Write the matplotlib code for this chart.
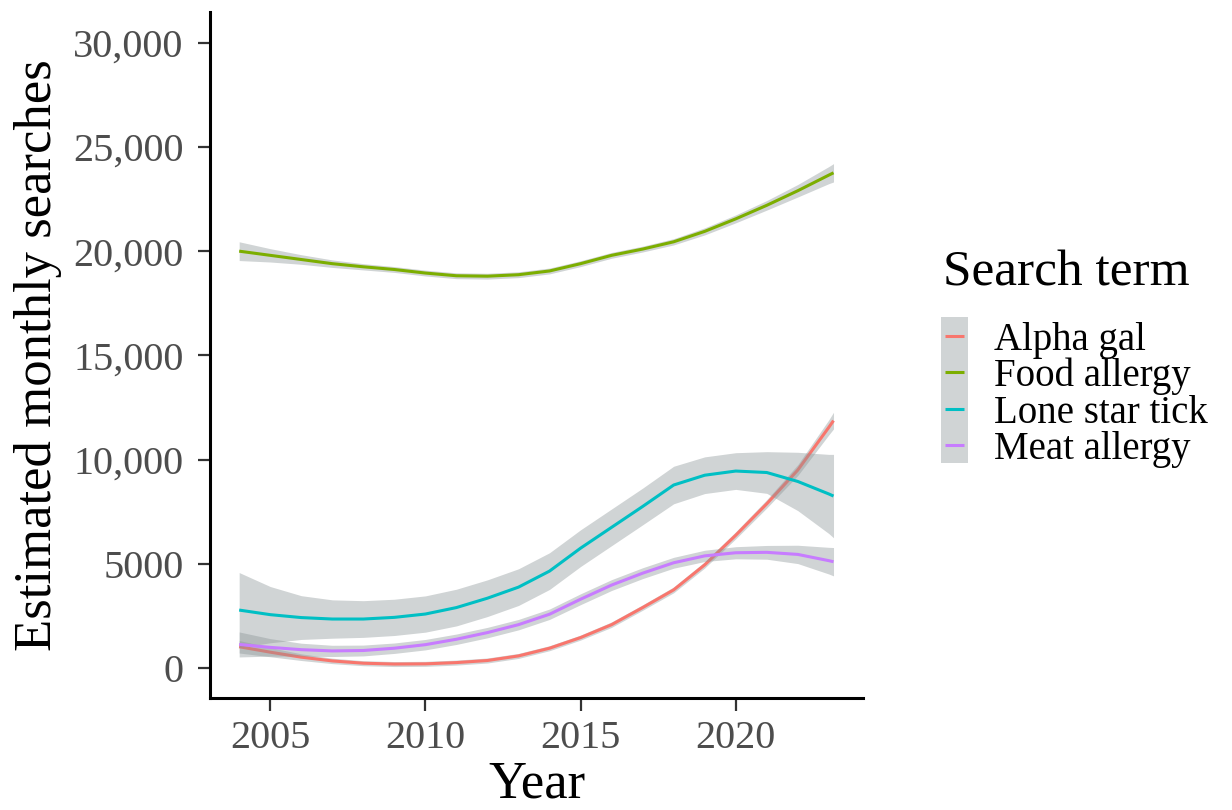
import matplotlib.pyplot as plt
from matplotlib.patches import Rectangle

plt.rcParams['font.family'] = ['Liberation Serif', 'DejaVu Serif']

# smoothed monthly search estimates (loess fit) and half-width of the 95% band
years = [2004, 2005, 2006, 2007, 2008, 2009, 2010, 2011, 2012, 2013, 2014,
         2015, 2016, 2017, 2018, 2019, 2020, 2021, 2022, 2023, 2023.15]

alpha_gal = [1020, 760, 520, 340, 230, 190, 200, 260, 360, 580, 950,
             1460, 2080, 2900, 3750, 4950, 6370, 7880, 9500, 11550, 11870]
alpha_gal_ci = [300, 220, 160, 130, 120, 120, 120, 120, 120, 120, 120,
                120, 130, 130, 140, 150, 170, 200, 260, 360, 400]

food_allergy = [20000, 19800, 19600, 19400, 19250, 19120, 18950, 18820, 18800, 18870, 19050,
                19400, 19800, 20100, 20450, 20950, 21550, 22200, 22900, 23650, 23760]
food_allergy_ci = [450, 320, 230, 180, 150, 140, 140, 140, 140, 140, 140,
                   140, 140, 140, 150, 170, 190, 230, 300, 410, 440]

lone_star_tick = [2780, 2560, 2420, 2350, 2350, 2430, 2590, 2900, 3350, 3880, 4650,
                  5750, 6750, 7750, 8780, 9250, 9450, 9380, 8950, 8350, 8250]
lone_star_tick_ci = [1800, 1350, 1050, 920, 880, 870, 870, 880, 880, 880, 880,
                     880, 880, 880, 900, 880, 880, 1000, 1400, 1900, 2000]

meat_allergy = [1130, 990, 880, 820, 840, 950, 1120, 1380, 1700, 2080, 2580,
                3300, 3980, 4550, 5050, 5380, 5530, 5550, 5450, 5150, 5100]
meat_allergy_ci = [600, 420, 310, 270, 260, 250, 250, 250, 250, 250, 250,
                   260, 260, 260, 260, 270, 290, 330, 440, 640, 680]

terms = ['Alpha gal', 'Food allergy', 'Lone star tick', 'Meat allergy']
colors = ['#F8766D', '#7CAE00', '#00BFC4', '#C77CFF']
series = [(alpha_gal, alpha_gal_ci), (food_allergy, food_allergy_ci),
          (lone_star_tick, lone_star_tick_ci), (meat_allergy, meat_allergy_ci)]

y_ticks = [0, 5000, 10000, 15000, 20000, 25000, 30000]
y_labels = ['0', '5000', '10,000', '15,000', '20,000', '25,000', '30,000']
x_ticks = [2005, 2010, 2015, 2020]

W, H = 1232, 810
fig = plt.figure(figsize=(W / 100, H / 100), dpi=100)
ax = fig.add_axes([210 / W, 112 / H, 653 / W, 686 / H])

band_fill = '#8a9496'
z = 2
for (vals, ci), col in zip(series, colors):
    lo = [v - c for v, c in zip(vals, ci)]
    hi = [v + c for v, c in zip(vals, ci)]
    ax.fill_between(years, lo, hi, color=band_fill, alpha=0.4, lw=0, zorder=z)
    ax.plot(years, vals, color=col, lw=2.2, zorder=z + 1, solid_capstyle='butt',
            solid_joinstyle='round')
    z += 2

ax.set_xlim(2003.06, 2024.1)
ax.set_ylim(-1439, 31475)
ax.set_xticks(x_ticks)
ax.set_xticklabels([str(t) for t in x_ticks])
ax.set_yticks(y_ticks)
ax.set_yticklabels(y_labels)

for s in ['top', 'right']:
    ax.spines[s].set_visible(False)
for s in ['left', 'bottom']:
    ax.spines[s].set_linewidth(2.2)
    ax.spines[s].set_color('black')

ax.tick_params(axis='both', length=9, width=1.6, color='#333333',
               labelsize=29, labelcolor='#4d4d4d')
ax.tick_params(axis='y', pad=10)
ax.tick_params(axis='x', pad=7)

fig.text(536.5 / W, 1 / H, 'Year', ha='center', va='bottom', fontsize=38)
fig.text(51 / W, 1 - 355 / H, 'Estimated monthly searches', ha='center',
         va='baseline', rotation=90, rotation_mode='anchor', fontsize=38)

# legend drawn in pixel space
lax = fig.add_axes([0, 0, 1, 1])
lax.set_xlim(0, W)
lax.set_ylim(H, 0)
lax.axis('off')
lax.text(943, 286, 'Search term', fontsize=37, va='baseline', ha='left')
lax.add_patch(Rectangle((941, 317), 27, 146, facecolor='#d0d4d5', lw=0))
for i, (term, col) in enumerate(zip(terms, colors)):
    yc = 336 + i * 36.4
    lax.plot([945, 964], [yc, yc], color=col, lw=2.2, solid_capstyle='butt')
    lax.text(994, yc + 14, term, fontsize=28, va='baseline', ha='left')

fig.savefig('out.png', dpi=100)
